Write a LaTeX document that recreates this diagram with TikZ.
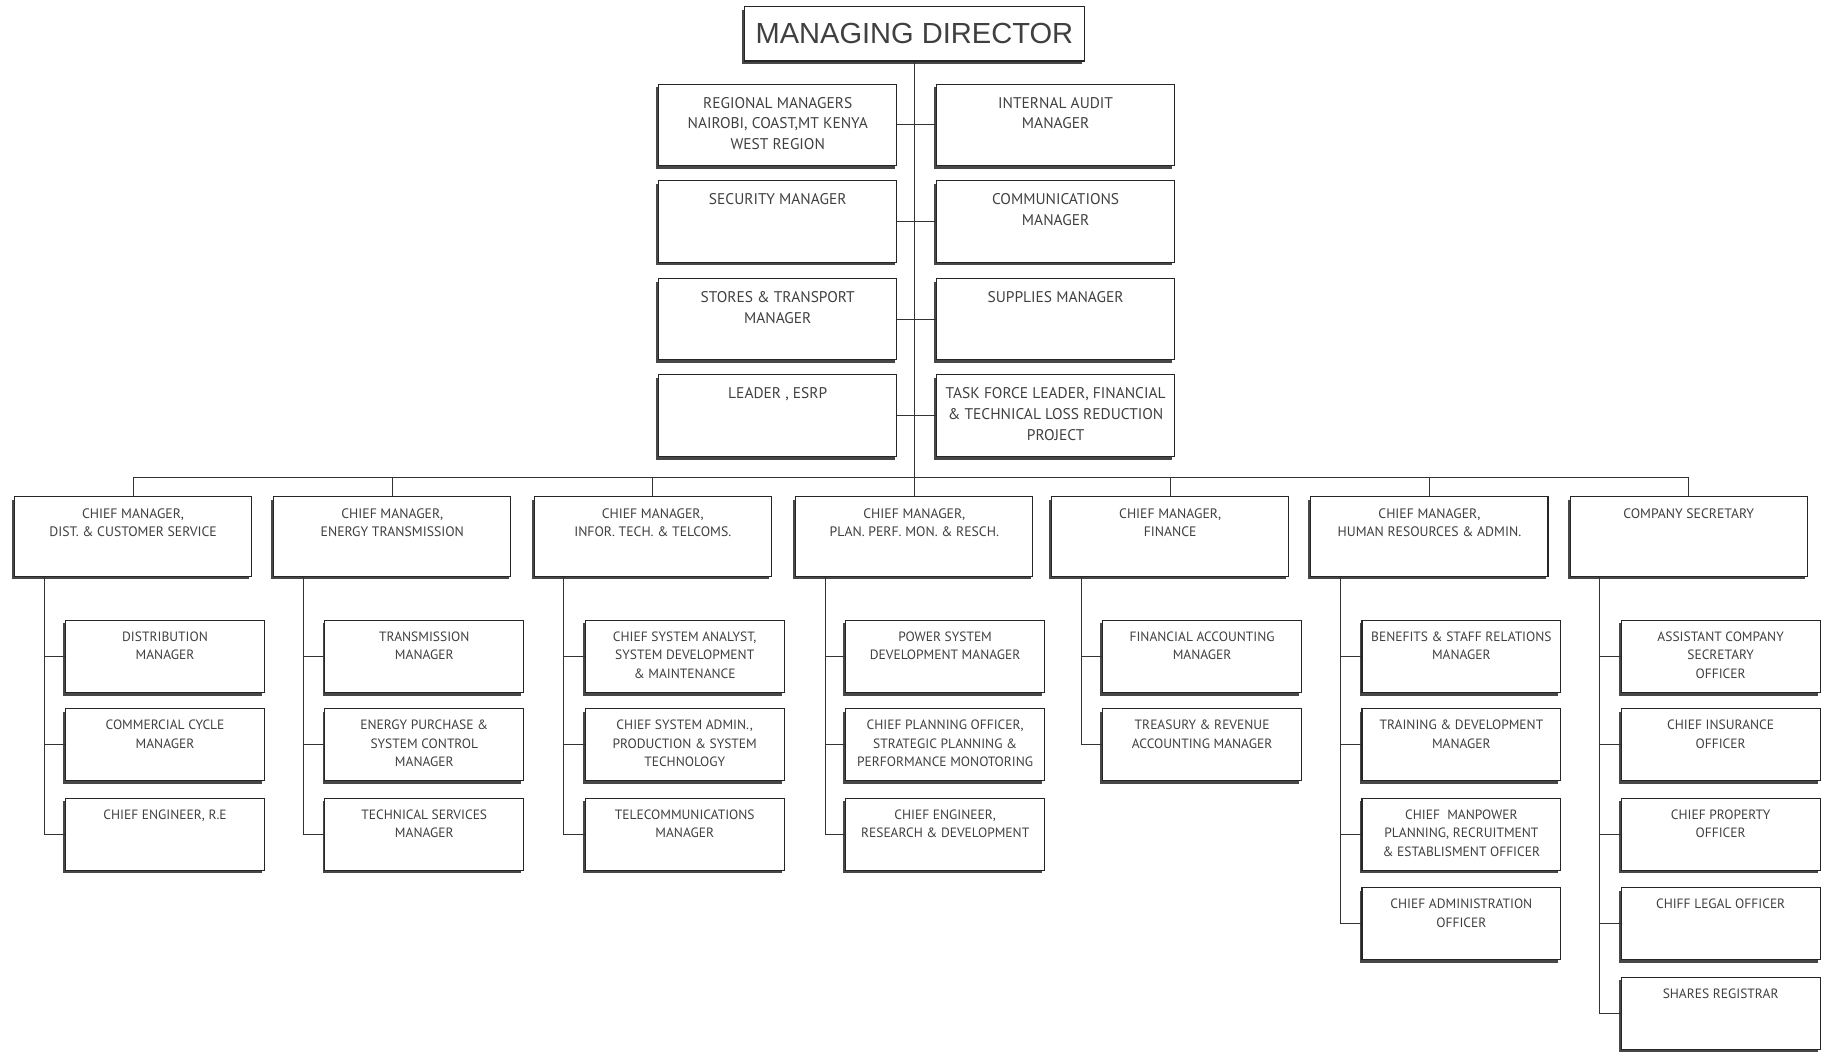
\documentclass[tikz,border=0pt]{standalone}
\usepackage{fontspec}
\setmainfont{PT Sans}
\newfontfamily\mdfont{Liberation Sans}
\usetikzlibrary{shadows}
\newcommand\topbox[4]{\node[box,anchor=north west] (#1) at (#2,#3) {\parbox[c][70pt][t]{205pt}{\centering\fontsize{13.3}{18}\selectfont\vspace*{11pt}#4}};}
\newcommand\chiefbox[3]{\node[box,anchor=north west] (#1) at (#2,427) {\parbox[c][68pt][t]{204pt}{\centering\fontsize{11.8}{16}\selectfont\vspace*{9.8pt}#3}};}
\newcommand\subbox[4]{\node[box,anchor=north west] (#1) at (#2,#3) {\parbox[c][62pt][t]{171pt}{\centering\fontsize{11.6}{16}\selectfont\vspace*{9.8pt}#4}};}
\begin{document}
\begin{tikzpicture}[x=1pt,y=-1pt,
  box/.style={draw=black!85, line width=0.9pt, fill=white, inner sep=0pt, text=black!75,
    drop shadow={shadow xshift=-2pt, shadow yshift=-2.8pt, fill=black!72, opacity=1}},
  conn/.style={draw=black!80, line width=0.8pt}]
\fill[white] (0,0) rectangle (1568,905);
\useasboundingbox (0,0) rectangle (1568,905);

% top
\node[box,anchor=north west] (md) at (640,5) {\parbox[c][47pt][c]{292pt}{\centering\mdfont\fontsize{25}{30}\selectfont MANAGING DIRECTOR}};

\topbox{l1}{566}{72}{REGIONAL MANAGERS\\NAIROBI, COAST,MT KENYA\\WEST REGION}
\topbox{r1}{805}{72}{INTERNAL AUDIT\\MANAGER}
\topbox{l2}{566}{155}{SECURITY MANAGER}
\topbox{r2}{805}{155}{COMMUNICATIONS\\MANAGER}
\topbox{l3}{566}{239}{STORES \& TRANSPORT\\MANAGER}
\topbox{r3}{805}{239}{SUPPLIES MANAGER}
\topbox{l4}{566}{322}{LEADER , ESRP}
\topbox{r4}{805}{322}{TASK FORCE LEADER, FINANCIAL\\\& TECHNICAL LOSS REDUCTION\\PROJECT}

% chiefs
\chiefbox{c1}{12}{CHIEF MANAGER,\\DIST. \& CUSTOMER SERVICE}
\chiefbox{c2}{235}{CHIEF MANAGER,\\ENERGY TRANSMISSION}
\chiefbox{c3}{459}{CHIEF MANAGER,\\INFOR. TECH. \& TELCOMS.}
\chiefbox{c4}{684}{CHIEF MANAGER,\\PLAN. PERF. MON. \& RESCH.}
\chiefbox{c5}{904}{CHIEF MANAGER,\\FINANCE}
\chiefbox{c6}{1127}{CHIEF MANAGER,\\HUMAN RESOURCES \& ADMIN.}
\chiefbox{c7}{1350}{COMPANY SECRETARY}

% group 1
\subbox{s1a}{56}{533}{DISTRIBUTION\\MANAGER}
\subbox{s1b}{56}{609}{COMMERCIAL CYCLE\\MANAGER}
\subbox{s1c}{56}{686}{CHIEF ENGINEER, R.E}
% group 2
\subbox{s2a}{279}{533}{TRANSMISSION\\MANAGER}
\subbox{s2b}{279}{609}{ENERGY PURCHASE \&\\SYSTEM CONTROL\\MANAGER}
\subbox{s2c}{279}{686}{TECHNICAL SERVICES\\MANAGER}
% group 3
\subbox{s3a}{503}{533}{CHIEF SYSTEM ANALYST,\\SYSTEM DEVELOPMENT\\\& MAINTENANCE}
\subbox{s3b}{503}{609}{CHIEF SYSTEM ADMIN.,\\PRODUCTION \& SYSTEM\\TECHNOLOGY}
\subbox{s3c}{503}{686}{TELECOMMUNICATIONS\\MANAGER}
% group 4
\subbox{s4a}{727}{533}{POWER SYSTEM\\DEVELOPMENT MANAGER}
\subbox{s4b}{727}{609}{CHIEF PLANNING OFFICER,\\STRATEGIC PLANNING \&\\PERFORMANCE MONOTORING}
\subbox{s4c}{727}{686}{CHIEF ENGINEER,\\RESEARCH \& DEVELOPMENT}
% group 5
\subbox{s5a}{948}{533}{FINANCIAL ACCOUNTING\\MANAGER}
\subbox{s5b}{948}{609}{TREASURY \& REVENUE\\ACCOUNTING MANAGER}
% group 6
\subbox{s6a}{1171}{533}{BENEFITS \& STAFF RELATIONS\\MANAGER}
\subbox{s6b}{1171}{609}{TRAINING \& DEVELOPMENT\\MANAGER}
\subbox{s6c}{1171}{686}{CHIEF \ MANPOWER\\PLANNING, RECRUITMENT\\\& ESTABLISMENT OFFICER}
\subbox{s6d}{1171}{763}{CHIEF ADMINISTRATION\\OFFICER}
% group 7
\subbox{s7a}{1394}{533}{ASSISTANT COMPANY\\SECRETARY\\OFFICER}
\subbox{s7b}{1394}{609}{CHIEF INSURANCE\\OFFICER}
\subbox{s7c}{1394}{686}{CHIEF PROPERTY\\OFFICER}
\subbox{s7d}{1394}{763}{CHIFF LEGAL OFFICER}
\subbox{s7e}{1394}{840}{SHARES REGISTRAR}

% connectors top
\coordinate (bus) at (0,411);
\draw[conn] (md.south) -- (c4.north);
\foreach \k in {1,...,4} \draw[conn] (l\k.east) -- (r\k.west);
\draw[conn] (c1.north) |- (c7.north |- bus) -- (c7.north);
\foreach \k in {2,...,6} \draw[conn] (c\k.north) -- (c\k.north |- bus);

% connectors groups
\foreach \k in {1,...,7} \coordinate (v\k) at ([xshift=26pt]c\k.south west);
\foreach \g/\last in {1/c,2/c,3/c,4/c,5/b,6/d,7/e} {
  \foreach \r in {a,b,c,d,e} {
    \ifnum\pdfstrcmp{\r}{\last}>0\relax\else
      \draw[conn] (v\g) |- (s\g\r.west);
    \fi
  }
}
\end{tikzpicture}
\end{document}
